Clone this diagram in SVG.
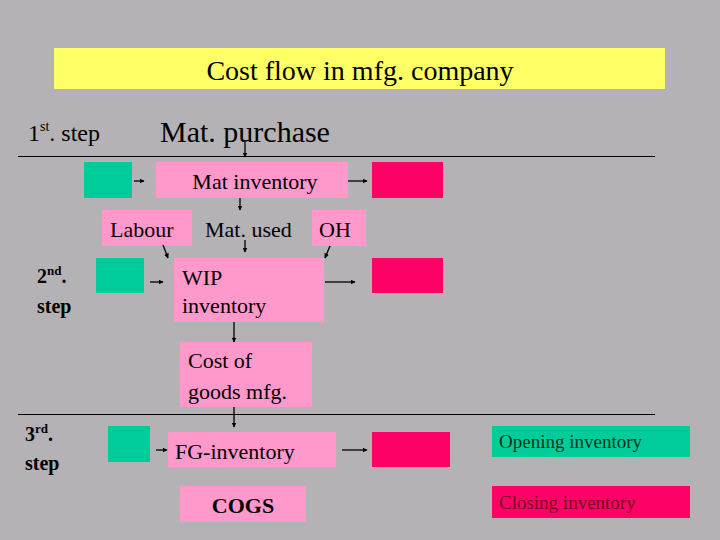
<svg xmlns="http://www.w3.org/2000/svg" width="720" height="540" viewBox="0 0 720 540">
<defs>
<marker id="ah" viewBox="0 0 10 10" refX="9" refY="5" markerWidth="5" markerHeight="5" orient="auto" markerUnits="userSpaceOnUse"><path d="M0,0 L10,5 L0,10 z" fill="#000"/></marker>
</defs>
<style>
text{font-family:'Liberation Serif','DejaVu Serif',serif;fill:#000}
.g{fill:#00cc99}
.p{fill:#ff99cc}
.r{fill:#ff0066}
.t22{font-size:22px}
.b{font-weight:bold}
.c line{stroke:#000;stroke-width:1.3;marker-end:url(#ah)}
.sep{stroke:#000;stroke-width:1}
</style>
<rect width="720" height="540" fill="#b4b2b4"/>
<g font-family="Liberation Serif, DejaVu Serif, serif">
<g id="title"><rect x="54" y="48" width="611" height="41" fill="#ffff66"/><text x="360" y="80" font-size="28" text-anchor="middle">Cost flow in mfg. company</text></g>
<g id="step1"><text x="28" y="141" font-size="24">1<tspan font-size="14" dy="-10">st</tspan><tspan dy="10">. step</tspan></text></g>
<g id="matpurchase"><text x="160" y="142" font-size="30">Mat. purchase</text></g>
<line class="sep" x1="18" y1="156.5" x2="655" y2="156.5"/>
<line class="sep" x1="18" y1="414.5" x2="655" y2="414.5"/>
<g id="open1"><rect class="g" x="84" y="162" width="48" height="36"/></g>
<g id="matinv"><rect class="p" x="156" y="162" width="192" height="36"/><text class="t22" x="255" y="189" text-anchor="middle">Mat inventory</text></g>
<g id="close1"><rect class="r" x="372" y="162" width="71" height="36"/></g>
<g id="labour"><rect class="p" x="102" y="210" width="90" height="36"/><text class="t22" x="110" y="237">Labour</text></g>
<g id="matused"><text class="t22" x="205" y="237">Mat. used</text></g>
<g id="oh"><rect class="p" x="312" y="210" width="54" height="36"/><text class="t22" x="319" y="237">OH</text></g>
<g id="step2"><text class="b" x="37" y="283" font-size="20">2<tspan font-size="13" dy="-8">nd</tspan><tspan dy="8">.</tspan></text><text class="b" x="37" y="313" font-size="20">step</text></g>
<g id="open2"><rect class="g" x="96" y="258" width="48" height="35"/></g>
<g id="wip"><rect class="p" x="174" y="258" width="150" height="64"/><text class="t22" x="182" y="285">WIP</text><text class="t22" x="182" y="313">inventory</text></g>
<g id="close2"><rect class="r" x="372" y="258" width="71" height="35"/></g>
<g id="cogm"><rect class="p" x="180" y="342" width="132" height="65"/><text class="t22" x="188" y="368">Cost of</text><text class="t22" x="188" y="399">goods mfg.</text></g>
<g id="step3"><text class="b" x="25" y="441" font-size="20">3<tspan font-size="13" dy="-8">rd</tspan><tspan dy="8">.</tspan></text><text class="b" x="25" y="470" font-size="20">step</text></g>
<g id="open3"><rect class="g" x="108" y="426" width="42" height="36"/></g>
<g id="fginv"><rect class="p" x="168" y="432" width="168" height="35"/><text class="t22" x="175" y="459">FG-inventory</text></g>
<g id="close3"><rect class="r" x="372" y="432" width="78" height="35"/></g>
<g id="cogs"><rect class="p" x="180" y="486" width="126" height="36"/><text class="t22 b" x="243" y="513" text-anchor="middle">COGS</text></g>
<g id="legend-open"><rect class="g" x="492" y="426" width="198" height="31"/><text x="499" y="448" font-size="19" style="fill:#003322">Opening inventory</text></g>
<g id="legend-close"><rect class="r" x="492" y="486" width="198" height="32"/><text x="499" y="509" font-size="19" style="fill:#7a0020">Closing inventory</text></g>
</g>
<g class="c" id="connectors">
<line x1="245" y1="142" x2="245" y2="157"/>
<line x1="134" y1="181" x2="144" y2="181"/>
<line x1="348" y1="181" x2="367" y2="181"/>
<line x1="240" y1="198" x2="240" y2="210"/>
<line x1="163" y1="245" x2="168" y2="258"/>
<line x1="245" y1="240" x2="245" y2="252"/>
<line x1="330" y1="246" x2="325" y2="258"/>
<line x1="150" y1="282" x2="163" y2="282"/>
<line x1="325" y1="282" x2="355" y2="282"/>
<line x1="234" y1="322" x2="234" y2="342"/>
<line x1="234" y1="407" x2="234" y2="427"/>
<line x1="156" y1="450" x2="167" y2="450"/>
<line x1="342" y1="450" x2="367" y2="450"/>
</g>
</svg>
